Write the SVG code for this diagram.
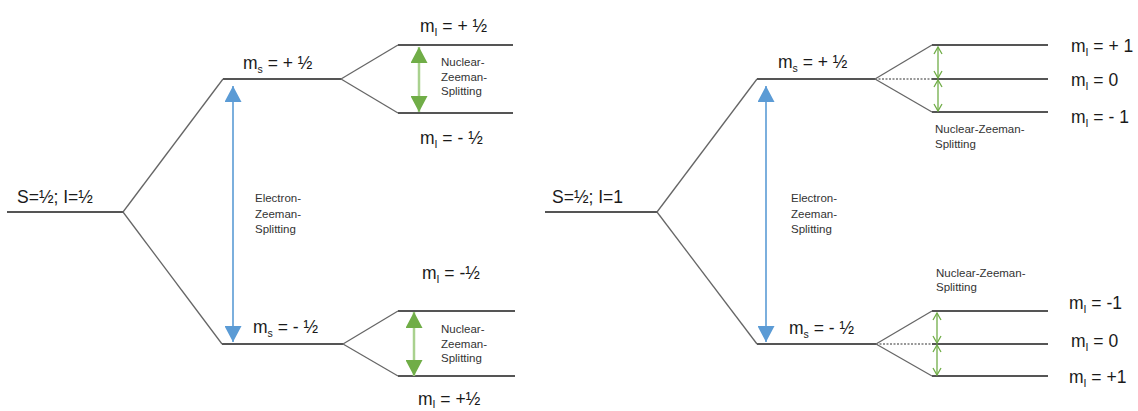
<svg xmlns="http://www.w3.org/2000/svg" width="1138" height="411" viewBox="0 0 1138 411">
<style>
.lvl{stroke:#555;stroke-width:2;fill:none}
.dia{stroke:#666;stroke-width:1.3;fill:none}
.dot{stroke:#777;stroke-width:1.5;stroke-dasharray:2 1.5;fill:none}
.big{font-family:"Liberation Sans",Arial,sans-serif;font-size:17.5px;fill:#1a1a1a}
.sm{font-family:"Liberation Sans",Arial,sans-serif;font-size:11.5px;fill:#333}
.sub{font-size:10.5px}
.blue{stroke:#5b9bd5;stroke-width:1.6;fill:none;marker-start:url(#bh);marker-end:url(#bh)}
.gbig{stroke:#a9d18e;stroke-width:2.5;fill:none;marker-start:url(#gh);marker-end:url(#gh)}
.gsm{stroke:#70ad47;stroke-width:1.3;fill:none;marker-start:url(#gc);marker-end:url(#gc)}
</style>
<defs>
<marker id="bh" markerUnits="userSpaceOnUse" markerWidth="16" markerHeight="17" refX="16" refY="8.5" orient="auto-start-reverse"><path d="M0,0 L16,8.5 L0,17 z" fill="#5b9bd5"/></marker>
<marker id="gh" markerUnits="userSpaceOnUse" markerWidth="16" markerHeight="17" refX="16" refY="8.5" orient="auto-start-reverse"><path d="M0,0 L16,8.5 L0,17 z" fill="#70ad47"/></marker>
<marker id="gc" markerUnits="userSpaceOnUse" markerWidth="9" markerHeight="10" refX="8" refY="5" orient="auto-start-reverse"><path d="M1,1 L8,5 L1,9" fill="none" stroke="#70ad47" stroke-width="1.3"/></marker>
</defs>

<g id="left-base"><line class="lvl" x1="7" y1="212" x2="123" y2="212"/><text class="big" x="17" y="203">S=½; I=½</text></g>
<g id="left-ms-up"><line class="lvl" x1="223" y1="79" x2="341" y2="79"/><text class="big" x="243" y="69">m<tspan class="sub" dy="4">s</tspan><tspan dy="-4"> = + ½</tspan></text></g>
<g id="left-ms-down"><line class="lvl" x1="222" y1="344" x2="343" y2="344"/><text class="big" x="253" y="333">m<tspan class="sub" dy="4">s</tspan><tspan dy="-4"> = - ½</tspan></text></g>
<g id="left-mi-up-plus"><line class="lvl" x1="398" y1="45" x2="513" y2="45"/><text class="big" x="420" y="32">m<tspan class="sub" dy="4">I</tspan><tspan dy="-4"> = + ½</tspan></text></g>
<g id="left-mi-up-minus"><line class="lvl" x1="398" y1="113" x2="513" y2="113"/><text class="big" x="420" y="144">m<tspan class="sub" dy="4">I</tspan><tspan dy="-4"> = - ½</tspan></text></g>
<g id="left-mi-down-minus"><line class="lvl" x1="398" y1="311" x2="515" y2="311"/><text class="big" x="422" y="279">m<tspan class="sub" dy="4">I</tspan><tspan dy="-4"> = -½</tspan></text></g>
<g id="left-mi-down-plus"><line class="lvl" x1="398" y1="376" x2="515" y2="376"/><text class="big" x="418" y="405">m<tspan class="sub" dy="3">I</tspan><tspan dy="-3"> = +½</tspan></text></g>
<g id="left-labels">
<text class="sm" x="255" y="202">Electron-</text><text class="sm" x="255" y="218">Zeeman-</text><text class="sm" x="255" y="233">Splitting</text>
<text class="sm" x="441" y="66">Nuclear-</text><text class="sm" x="441" y="81">Zeeman-</text><text class="sm" x="441" y="95">Splitting</text>
<text class="sm" x="441" y="333">Nuclear-</text><text class="sm" x="441" y="348">Zeeman-</text><text class="sm" x="441" y="362">Splitting</text>
</g>

<g id="right-base"><line class="lvl" x1="545" y1="212" x2="657" y2="212"/><text class="big" x="552" y="203">S=½; I=1</text></g>
<g id="right-ms-up"><line class="lvl" x1="757" y1="79" x2="875" y2="79"/><text class="big" x="778" y="68">m<tspan class="sub" dy="4">s</tspan><tspan dy="-4"> = + ½</tspan></text></g>
<g id="right-ms-down"><line class="lvl" x1="757" y1="344" x2="876" y2="344"/><text class="big" x="789" y="334">m<tspan class="sub" dy="4">s</tspan><tspan dy="-4"> = - ½</tspan></text></g>
<g id="right-mi-up-p1"><line class="lvl" x1="932" y1="45" x2="1048" y2="45"/><text class="big" x="1071" y="52">m<tspan class="sub" dy="4">I</tspan><tspan dy="-4"> = + 1</tspan></text></g>
<g id="right-mi-up-0"><line class="lvl" x1="932" y1="79" x2="1048" y2="79"/><text class="big" x="1071" y="86">m<tspan class="sub" dy="4">I</tspan><tspan dy="-4"> = 0</tspan></text></g>
<g id="right-mi-up-m1"><line class="lvl" x1="932" y1="112" x2="1048" y2="112"/><text class="big" x="1071" y="123">m<tspan class="sub" dy="4">I</tspan><tspan dy="-4"> = - 1</tspan></text></g>
<g id="right-mi-down-m1"><line class="lvl" x1="932" y1="311" x2="1048" y2="311"/><text class="big" x="1069" y="309">m<tspan class="sub" dy="4">I</tspan><tspan dy="-4"> = -1</tspan></text></g>
<g id="right-mi-down-0"><line class="lvl" x1="932" y1="344" x2="1048" y2="344"/><text class="big" x="1071" y="347">m<tspan class="sub" dy="4">I</tspan><tspan dy="-4"> = 0</tspan></text></g>
<g id="right-mi-down-p1"><line class="lvl" x1="932" y1="376" x2="1048" y2="376"/><text class="big" x="1069" y="383">m<tspan class="sub" dy="4">I</tspan><tspan dy="-4"> = +1</tspan></text></g>
<g id="right-labels">
<text class="sm" x="791" y="202">Electron-</text><text class="sm" x="791" y="218">Zeeman-</text><text class="sm" x="791" y="233">Splitting</text>
<text class="sm" x="935" y="133">Nuclear-Zeeman-</text><text class="sm" x="935" y="148">Splitting</text>
<text class="sm" x="936" y="277">Nuclear-Zeeman-</text><text class="sm" x="936" y="291">Splitting</text>
</g>

<g id="connectors">
<line class="dia" x1="123" y1="212" x2="223" y2="79"/>
<line class="dia" x1="123" y1="212" x2="222" y2="344"/>
<line class="dia" x1="341" y1="79" x2="398" y2="45"/>
<line class="dia" x1="341" y1="79" x2="398" y2="113"/>
<line class="dia" x1="343" y1="344" x2="398" y2="311"/>
<line class="dia" x1="343" y1="344" x2="398" y2="376"/>
<line class="blue" x1="233" y1="86" x2="233" y2="342"/>
<line class="gbig" x1="419" y1="47" x2="419" y2="112"/>
<line class="gbig" x1="414" y1="312" x2="414" y2="376"/>

<line class="dia" x1="657" y1="212" x2="757" y2="79"/>
<line class="dia" x1="657" y1="212" x2="757" y2="344"/>
<line class="dia" x1="875" y1="79" x2="932" y2="45"/>
<line class="dot" x1="875" y1="79" x2="932" y2="79"/>
<line class="dia" x1="875" y1="79" x2="932" y2="112"/>
<line class="dia" x1="876" y1="344" x2="932" y2="311"/>
<line class="dot" x1="876" y1="344" x2="932" y2="344"/>
<line class="dia" x1="876" y1="344" x2="932" y2="376"/>
<line class="blue" x1="766" y1="86" x2="766" y2="342"/>
<line class="gsm" x1="938" y1="47" x2="938" y2="78"/>
<line class="gsm" x1="938" y1="80" x2="938" y2="111"/>
<line class="gsm" x1="937" y1="313" x2="937" y2="343"/>
<line class="gsm" x1="937" y1="345" x2="937" y2="375"/>
</g>
</svg>
